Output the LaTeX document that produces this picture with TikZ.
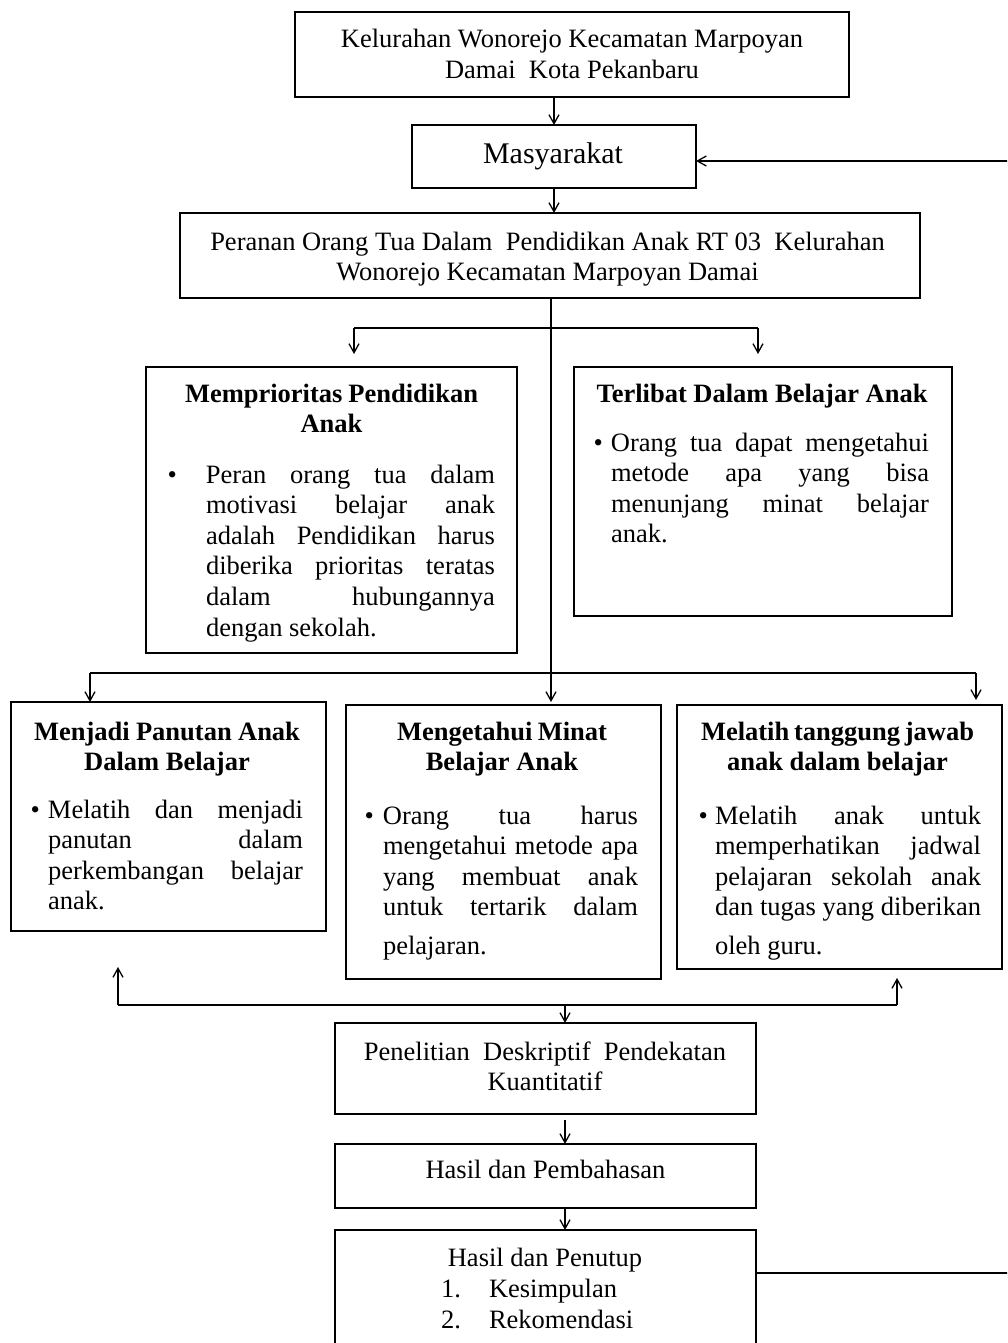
\documentclass[tikz,border=0pt]{standalone}
\usepackage{fontspec}
\setmainfont{Liberation Serif}
\usetikzlibrary{arrows.meta}
\newcommand\jl[1]{\makebox[\linewidth][s]{#1}}
\newcommand\bul[1]{\llap{\textbullet\hspace{#1}}}
\tikzset{
  box/.style={draw, line width=1.5pt, rectangle, inner sep=0pt, outer sep=0pt},
  conn/.style={line width=1.5pt},
  arr/.style={conn, -{Straight Barb[length=9pt,width=10pt,line width=1.3pt]}},
  txt/.style={inner sep=0pt, outer sep=0pt, anchor=base, font=\fontsize{26.5}{30.6}\selectfont},
  bigtxt/.style={txt, font=\fontsize{30}{34}\selectfont},
}
\begin{document}
\begin{tikzpicture}[x=1pt,y=-1pt]
\useasboundingbox (0,0) rectangle (1007,1343);
\fill[white] (0,0) rectangle (1007,1343);
\clip (0,0) rectangle (1007,1343);

% boxes
\node[box, minimum width=554pt, minimum height=85pt]  (b1)   at (572,54.5) {};
\node[box, minimum width=284pt, minimum height=63pt]  (masy) at (554,156.5) {};
\node[box, minimum width=740pt, minimum height=85pt]  (per)  at (550,255.5) {};
\node[box, minimum width=371pt, minimum height=286pt] (mp)   at (331.5,510) {};
\node[box, minimum width=378pt, minimum height=249pt] (tl)   at (763,491.5) {};
\node[box, minimum width=315pt, minimum height=229pt] (mj)   at (168.5,816.5) {};
\node[box, minimum width=315pt, minimum height=274pt] (mg)   at (503.5,842) {};
\node[box, minimum width=325pt, minimum height=264pt] (ml)   at (839.5,837) {};
\node[box, minimum width=421pt, minimum height=91pt]  (pen)  at (545.5,1068.5) {};
\node[box, minimum width=421pt, minimum height=64pt]  (hpb)  at (545.5,1176) {};
\node[box, minimum width=421pt, minimum height=130pt] (hpt)  at (545.5,1295) {};

% texts
\node[txt] (b1t) at (572,48) {\parbox[t]{530pt}{\centering Kelurahan Wonorejo Kecamatan Marpoyan\\ Damai\ \ Kota Pekanbaru}};
\node[bigtxt] (masyt) at (553,164) {Masyarakat};
\node[txt] (pert) at (547.5,250) {\parbox[t]{720pt}{\centering Peranan Orang Tua Dalam\ \ Pendidikan Anak RT 03\ \ Kelurahan\\ Wonorejo Kecamatan Marpoyan Damai}};

\node[txt] (mph) at (331.5,402) {\parbox[t]{293pt}{\bfseries\jl{Memprioritas Pendidikan}\\ \centering Anak}};
\node[txt] (mpb) at (350.5,483) {\parbox[t]{289pt}{%
\jl{\bul{29pt}Peran orang tua dalam}\\
\jl{motivasi belajar anak}\\
\jl{adalah Pendidikan harus}\\
\jl{diberika prioritas teratas}\\
\jl{dalam hubungannya}\\
dengan sekolah.}};

\node[txt] (tlh) at (762,402) {\textbf{Terlibat Dalam Belajar Anak}};
\node[txt] (tlb) at (770,451) {\parbox[t]{318pt}{%
\jl{\bul{8pt}Orang tua dapat mengetahui}\\
\jl{metode apa yang bisa}\\
\jl{menunjang minat belajar}\\
anak.}};

\node[txt] (mjh) at (167,740) {\parbox[t]{266pt}{\bfseries\jl{Menjadi Panutan Anak}\\ \centering Dalam Belajar}};
\node[txt] (mjb) at (175.5,818) {\parbox[t]{255pt}{%
\jl{\bul{8pt}Melatih dan menjadi}\\
\jl{panutan dalam}\\
\jl{perkembangan belajar}\\
anak.}};

\node[txt] (mgh) at (502,740) {\parbox[t]{210pt}{\bfseries\jl{Mengetahui Minat}\\ \centering Belajar Anak}};
\node[txt] (mgb) at (510.5,824) {\parbox[t]{255pt}{%
\jl{\bul{9pt}Orang tua harus}\\
\jl{mengetahui metode apa}\\
\jl{yang membuat anak}\\
\jl{untuk tertarik dalam}\\[8pt]
pelajaran.}};

\node[txt] (mlh) at (837.5,740) {\parbox[t]{273pt}{\bfseries\jl{Melatih tanggung jawab}\\ \centering anak dalam belajar}};
\node[txt] (mlb) at (848,824) {\parbox[t]{266pt}{%
\jl{\bul{7pt}Melatih anak untuk}\\
\jl{memperhatikan jadwal}\\
\jl{pelajaran sekolah anak}\\
\jl{dan tugas yang diberikan}\\[8pt]
oleh guru.}};

\node[txt] (pent) at (545,1060) {\parbox[t]{400pt}{\centering Penelitian\ \ Deskriptif\ \ Pendekatan\\ Kuantitatif}};
\node[txt] (hpbt) at (545.5,1178) {Hasil dan Pembahasan};
\node[txt] (hptt) at (545,1266) {Hasil dan Penutup};
\node[txt, anchor=base west] (k1n) at (441,1297) {1.};
\node[txt, anchor=base west] (k1) at (489,1297) {Kesimpulan};
\node[txt, anchor=base west] (k2n) at (441,1328) {2.};
\node[txt, anchor=base west] (k2) at (489,1328) {Rekomendasi};

% connectors
\coordinate (j1) at (551,328);
\coordinate (l1) at (354,328);
\coordinate (r1) at (758,328);
\coordinate (j2) at (551,673);
\coordinate (l2) at (90,673);
\coordinate (r2) at (976,673);
\coordinate (j3) at (565,1005);
\coordinate (l3) at (118,1005);
\coordinate (r3) at (897,1005);
\coordinate (fbt) at (1008,161);
\coordinate (fbb) at (1008,1273);

\draw[arr] (b1.south -| masy.north) -- (masy.north);
\draw[arr] (masy.south) -- (masy.south |- per.north);
\draw[conn] (per.south -| j1) -- (j2);
\draw[conn] (l1) -- (r1);
\draw[arr, shorten >=13pt] (l1) -- (l1 |- mp.north);
\draw[arr, shorten >=13pt] (r1) -- (r1 |- tl.north);
\draw[conn] (l2) -- (r2);
\draw[arr] (l2) -- (l2 |- mj.north);
\draw[arr, shorten >=3pt] (j2) -- (j2 |- mg.north);
\draw[arr, shorten >=5pt] (r2) -- (r2 |- ml.north);
\draw[conn] (l3) -- (r3);
\draw[arr, shorten >=36pt] (l3) -- (l3 |- mj.south);
\draw[arr, shorten >=9pt] (r3) -- (r3 |- ml.south);
\draw[arr] (j3) -- (j3 |- pen.north);
\draw[arr, shorten <=6pt] (pen.south -| j3) -- (hpb.north -| j3);
\draw[arr] (hpb.south -| j3) -- (hpt.north -| j3);
\draw[conn] (hpt.east |- fbb) -- (fbb);
\draw[arr] (fbt) -- (masy.east |- fbt);
\end{tikzpicture}
\end{document}
